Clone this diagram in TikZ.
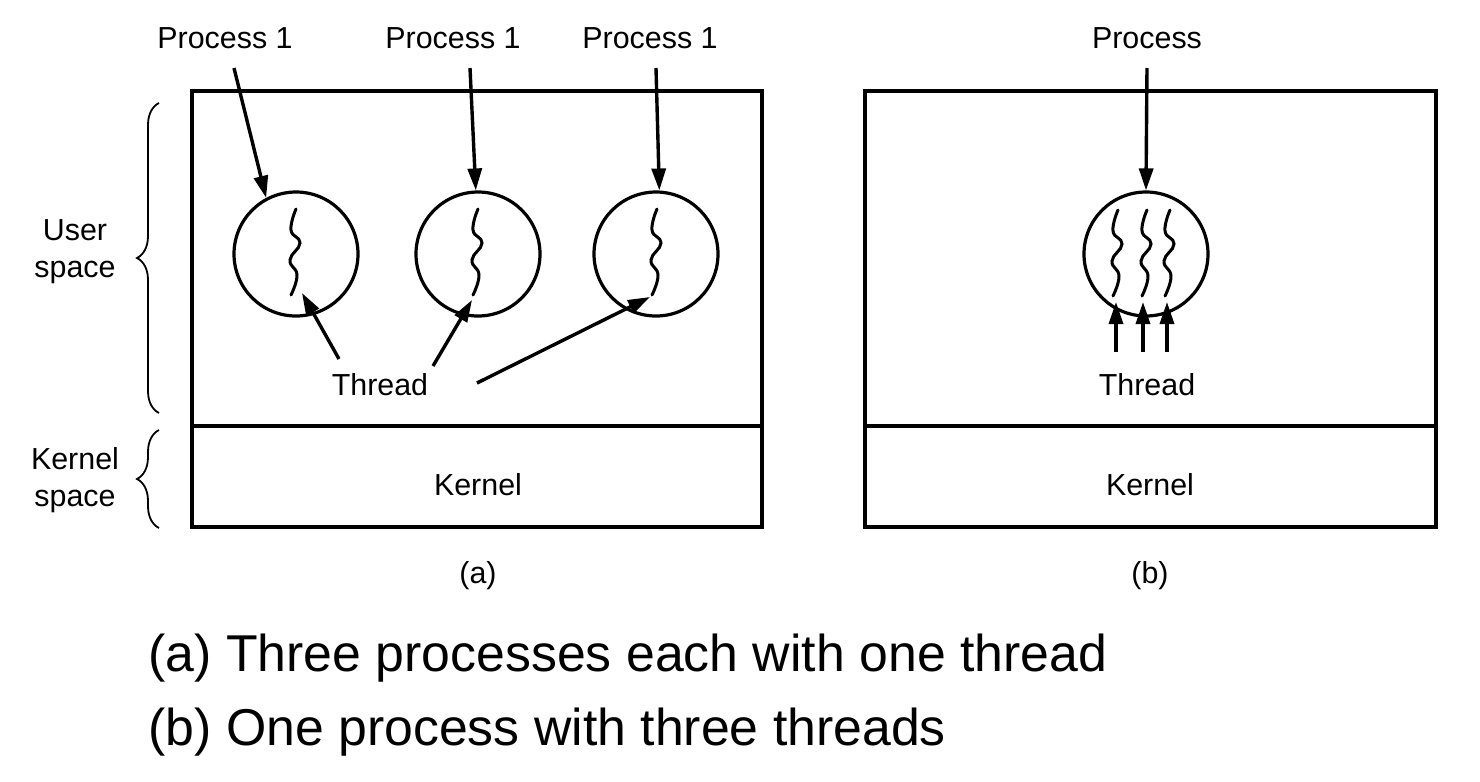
\documentclass[tikz,border=0pt]{standalone}
\usepackage{fontspec}
\setmainfont{Liberation Sans}
\usetikzlibrary{arrows.meta,decorations.pathreplacing}
\begin{document}
\begin{tikzpicture}[x=0.5pt,y=-0.5pt,
  box/.style={draw,line width=1.7pt},
  proc/.style={draw,circle,line width=1.6pt,minimum size=62pt,inner sep=0pt},
  lbl/.style={font=\fontsize{15.2}{18.5}\selectfont,inner sep=0pt,align=center},
  arr/.style={line width=1.7pt,-{Triangle[length=11pt,width=7pt]}},
  thr/.style={line width=1.5pt,line cap=round},
  brc/.style={decorate,decoration={brace,amplitude=11pt},line width=0.9pt},
  capt/.style={font=\fontsize{25.9}{32}\selectfont,inner sep=0pt,anchor=base west},
  squig/.pic={\draw[thr] plot[smooth,tension=0.8] coordinates {(0,0) (-5,21) (4,34) (-6,51) (1,66) (-5,86)};}]
\useasboundingbox (0,0) rectangle (1480,782);

% boxes
\draw[box] (192,91) rectangle (762,527);
\draw[box] (192,426) -- (762,426);
\draw[box] (865,91) rectangle (1436,527);
\draw[box] (865,426) -- (1436,426);

% braces and their labels
\draw[brc] (159,413) -- (159,103);
\draw[brc] (159,528) -- (159,430);
\node[lbl] (us) at (75,252) {User\\space};
\node[lbl] (ks) at (75,480) {Kernel\\space};

% (a) processes
\node[proc] (c1) at (296,254) {};
\node[proc] (c2) at (478,254) {};
\node[proc] (c3) at (656,254) {};
\pic at (296,209) {squig};
\pic at (478,209) {squig};
\pic at (657,209) {squig};

\node[lbl] (p1) at (225,38) {Process 1};
\node[lbl] (p2) at (453,38) {Process 1};
\node[lbl] (p3) at (650,38) {Process 1};
\coordinate (s1) at (234,68);
\coordinate (s2) at (470,68);
\coordinate (s3) at (656,68);
\draw[arr] (s1) -- (c1.118);
\draw[arr] (s2) -- (c2.92);
\draw[arr] (s3) -- (c3.87);

\node[lbl] (ta) at (380,385) {Thread};
\coordinate (ta1) at (339,359);
\coordinate (ta2) at (433,366);
\coordinate (ta3) at (477,383);
\coordinate (tt1) at (302,293);
\coordinate (tt2) at (472,300);
\coordinate (tt3) at (650,297);
\draw[arr] (ta1) -- (tt1);
\draw[arr] (ta2) -- (tt2);
\draw[arr] (ta3) -- (tt3);

\node[lbl] (ka) at (478,485) {Kernel};
\node[lbl] (la) at (478,576) {(a)};

% (b) one process, three threads
\node[proc] (cb) at (1146,254) {};
\pic at (1118,210) {squig};
\pic at (1147,210) {squig};
\pic at (1170,210) {squig};
\node[lbl] (pb) at (1147,38) {Process};
\coordinate (sb) at (1147,68);
\draw[arr] (sb) -- (cb.north);

\node[lbl] (tb) at (1147,385) {Thread};
\coordinate (tb1) at (1116,352);
\coordinate (tb2) at (1143,352);
\coordinate (tb3) at (1167,352);
\coordinate (ub1) at (1116,302);
\coordinate (ub2) at (1143,302);
\coordinate (ub3) at (1167,302);
\draw[arr] (tb1) -- (ub1);
\draw[arr] (tb2) -- (ub2);
\draw[arr] (tb3) -- (ub3);

\node[lbl] (kb) at (1150,485) {Kernel};
\node[lbl] (lb) at (1150,576) {(b)};

% captions
\node[capt] (cap1) at (148,671) {(a) Three processes each with one thread};
\node[capt] (cap2) at (148,745) {(b) One process with three threads};
\end{tikzpicture}
\end{document}
